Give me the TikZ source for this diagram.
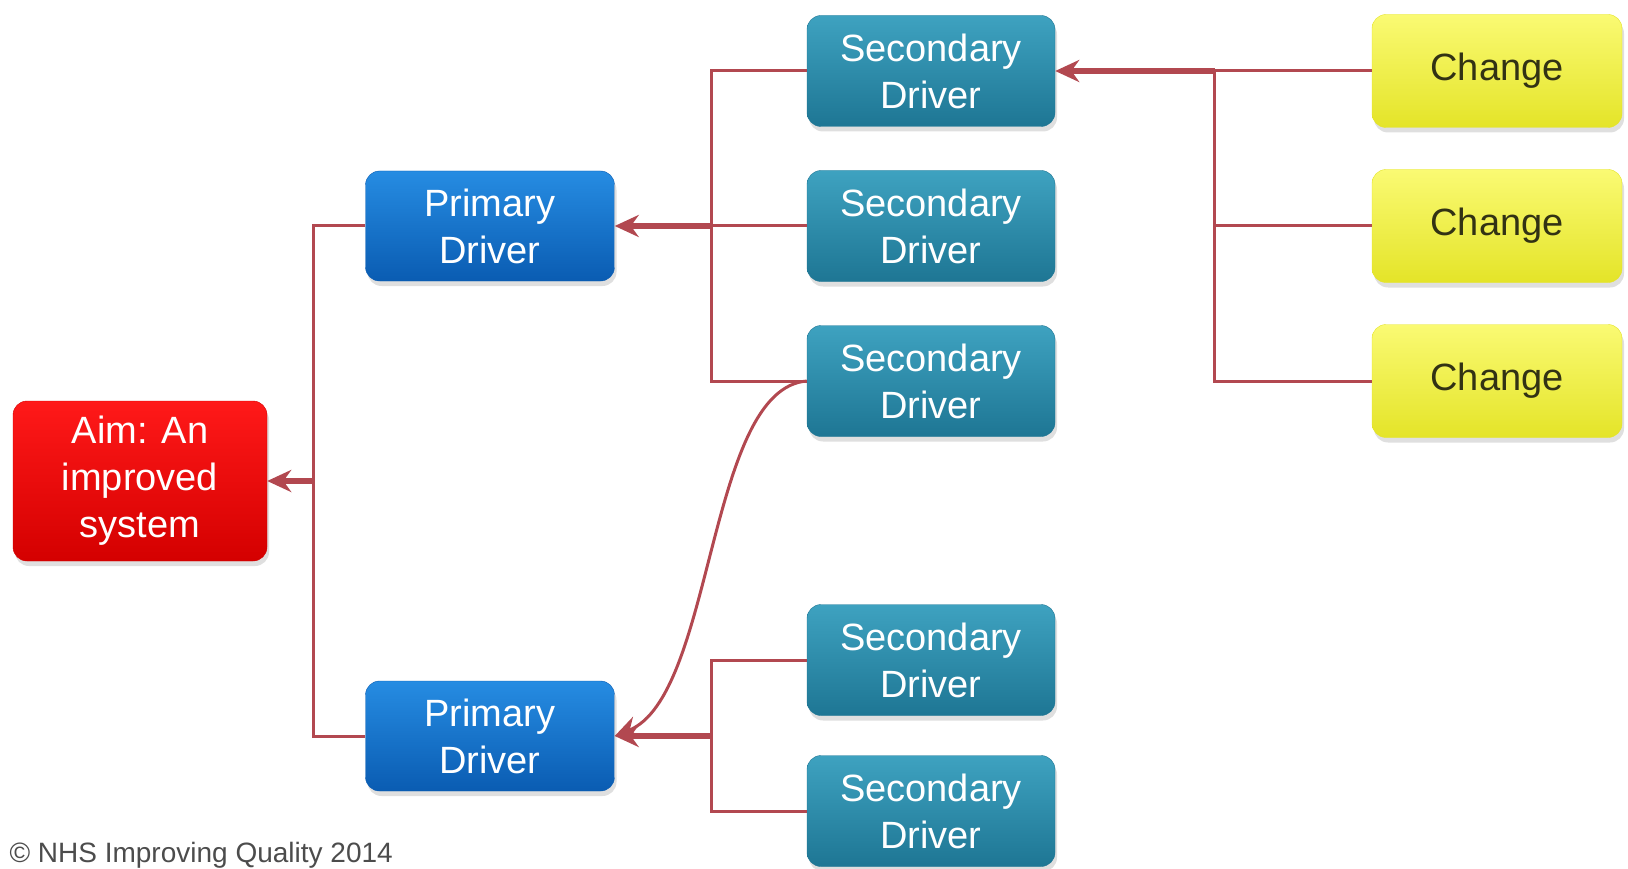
\documentclass[tikz,border=0pt]{standalone}
\usepackage{fontspec}
\setmainfont{Liberation Sans}
\usetikzlibrary{positioning, arrows.meta, shadows}

\definecolor{linkred}{RGB}{178,72,80}
\definecolor{aimtop}{RGB}{255,25,25}
\definecolor{aimbot}{RGB}{212,0,0}
\definecolor{primtop}{RGB}{38,140,226}
\definecolor{primbot}{RGB}{10,92,178}
\definecolor{sectop}{RGB}{62,162,192}
\definecolor{secbot}{RGB}{30,118,148}
\definecolor{chtop}{RGB}{250,250,115}
\definecolor{chbot}{RGB}{228,228,40}
\definecolor{chtext}{RGB}{50,50,20}

\tikzset{
  box/.style={rounded corners=14pt, align=center, inner sep=0pt,
    font=\fontsize{38}{47}\selectfont,
    drop shadow={opacity=0.25, shadow xshift=2pt, shadow yshift=-5pt}},
  aim/.style={box, minimum width=254pt, minimum height=160pt,
    top color=aimtop, bottom color=aimbot, draw=aimbot, text=white},
  primary/.style={box, minimum width=249pt, minimum height=110pt,
    top color=primtop, bottom color=primbot, draw=primbot, text=white},
  second/.style={box, minimum width=248pt, minimum height=111pt,
    top color=sectop, bottom color=secbot, draw=secbot, text=white},
  change/.style={box, minimum width=250pt, minimum height=113pt,
    top color=chtop, bottom color=chbot, draw=chbot, text=chtext},
  feed/.style={draw=linkred, line width=3pt},
  main/.style={draw=linkred, line width=6pt}
}

\begin{document}
\begin{tikzpicture}[x=1pt, y=1pt, node distance=155pt, >={Stealth[length=24pt,width=22pt]}]
\useasboundingbox (0,0) rectangle (1628,-869);

\node[aim] (aim) at (140,-481) {Aim: An\\improved\\system};
\node[primary] (p1) at (490,-226) {Primary\\Driver};
\node[primary] (p2) at (490,-736) {Primary\\Driver};
\node[second] (s2) at (931,-226) {Secondary\\Driver};
\node[second, above of=s2] (s1) {Secondary\\Driver};
\node[second, below of=s2] (s3) {Secondary\\Driver};
\node[second] (s4) at (931,-660) {Secondary\\Driver};
\node[second, node distance=151pt, below of=s4] (s5) {Secondary\\Driver};
\node[change, node distance=566pt, right of=s1] (c1) {Change};
\node[change, node distance=566pt, right of=s2] (c2) {Change};
\node[change, node distance=566pt, right of=s3] (c3) {Change};
\node[anchor=base west, font=\fontsize{28}{28}\selectfont, text=black!70] (copy) at (6,-862) {© NHS Improving Quality 2014};

\coordinate[left=157pt of c1.west] (jc);
\coordinate[right=97pt of p1.east] (js);
\coordinate[right=97pt of p2.east] (jd);
\coordinate[right=46pt of aim.east] (ja);

% changes to secondary driver
\draw[feed] (c1) -- (jc);
\draw[feed] (c2) -| (jc);
\draw[feed] (c3) -| (jc);
\draw[main,->] (jc) -- (s1);

% secondary to primary drivers
\draw[feed] (s1) -| (js);
\draw[feed] (s2) -- (js);
\draw[feed] (s3) -| (js);
\draw[main,->] (js) -- (p1);
\draw[feed] (s4) -| (jd);
\draw[feed] (s5) -| (jd);
\draw[main,->] (jd) -- (p2);
\draw[feed,->] (s3.west) .. controls +(-100,-8) and +(100,40) .. (p2.east);

% primary drivers to aim
\draw[feed] (p1) -| (ja);
\draw[feed] (p2) -| (ja);
\draw[main,->] (ja) -- (aim);
\end{tikzpicture}
\end{document}
